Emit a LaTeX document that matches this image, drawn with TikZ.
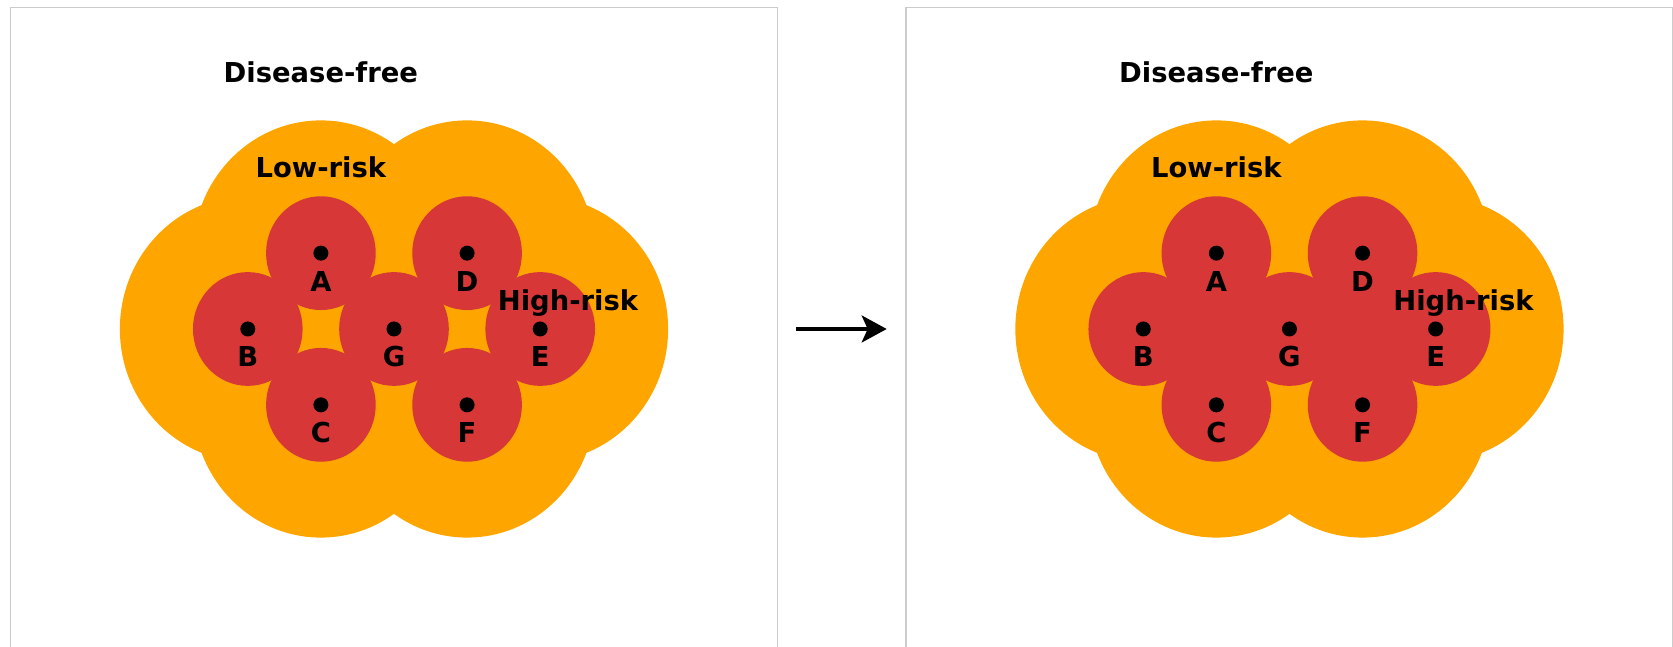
\documentclass[tikz,border=0pt]{standalone}
\usepackage{fontspec}
\setmainfont{DejaVu Sans}
\usetikzlibrary{arrows.meta,positioning}
\definecolor{riskorange}{RGB}{255,165,0}
\definecolor{riskred}{RGB}{215,55,55}
\definecolor{framegray}{RGB}{204,204,204}

\begin{document}
\begin{tikzpicture}[x=36.55pt,y=37.925pt,
  flow/.style={-{Stealth[length=12.5pt,width=13.5pt,inset=3pt]},line width=1.6pt},
  frame/.style={draw=framegray,line width=0.6pt},
  spread/.style={fill=riskorange},
  core/.style={fill=riskred},
  site/.style={circle,fill=black,inner sep=0pt,minimum size=7.5pt},
  tag/.style={anchor=base,inner sep=0pt,font=\fontsize{13.7}{16}\selectfont\bfseries}
]
  \useasboundingbox (-5.39,-4.1925) rectangle (17.497,4.3375);

  % before: gaps left between the high-risk circles
  \begin{scope}[shift={(0,0)}]
    \draw[frame] (-5.245,-4.25) -- (-5.245,4.24) -- (5.245,4.24) -- (5.245,-4.25);
    \foreach \x/\y in {-1/1,-2/0,-1/-1,1/1,2/0,1/-1,0/0} {\fill[spread] (\x,\y) circle (1.75);}
    \foreach \x/\y in {-1/1,-2/0,-1/-1,1/1,2/0,1/-1,0/0} {\fill[core] (\x,\y) circle (0.75);}
    \foreach \n/\x/\y in {A/-1/1,B/-2/0,C/-1/-1,D/1/1,E/2/0,F/1/-1,G/0/0} {
      \node[site] (L\n) at (\x,\y) {};
      \node[tag] (L\n-name) at (\x,{\y-0.5}) {\n};
    }
    \node[tag] (Lfree) at (-1,3.25) {Disease-free};
    \node[tag] (Llow) at (-1,2.0) {Low-risk};
    \node[tag] (Lhigh) at (2.38,0.25) {High-risk};
  \end{scope}

  \coordinate (arrowtail) at (5.5,0);
  \coordinate (arrowhead) at (6.74,0);
  \draw[flow] (arrowtail) -- (arrowhead);

  % after: gaps filled
  \begin{scope}[shift={(12.25,0)}]
    \draw[frame] (-5.245,-4.25) -- (-5.245,4.24) -- (5.245,4.24) -- (5.245,-4.25);
    \foreach \x/\y in {-1/1,-2/0,-1/-1,1/1,2/0,1/-1,0/0} {\fill[spread] (\x,\y) circle (1.75);}
    \foreach \x/\y in {-1/1,-2/0,-1/-1,1/1,2/0,1/-1,0/0} {\fill[core] (\x,\y) circle (0.75);}
    \fill[core] (-1,1) -- (-2,0) -- (-1,-1) -- (0,0) -- cycle;
    \fill[core] (1,1) -- (0,0) -- (1,-1) -- (2,0) -- cycle;
    \foreach \n/\x/\y in {A/-1/1,B/-2/0,C/-1/-1,D/1/1,E/2/0,F/1/-1,G/0/0} {
      \node[site] (R\n) at (\x,\y) {};
      \node[tag] (R\n-name) at (\x,{\y-0.5}) {\n};
    }
    \node[tag] (Rfree) at (-1,3.25) {Disease-free};
    \node[tag] (Rlow) at (-1,2.0) {Low-risk};
    \node[tag] (Rhigh) at (2.38,0.25) {High-risk};
  \end{scope}
\end{tikzpicture}
\end{document}
